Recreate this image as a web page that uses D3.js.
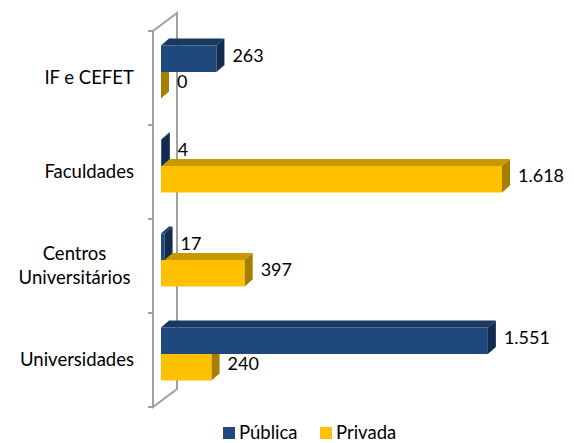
<!DOCTYPE html>
<html>
<head>
<meta charset="utf-8">
<script src="https://cdn.jsdelivr.net/npm/d3@7"></script>
<style>
  body { margin: 0; background: #fff; }
  text { font-family: Lato, "Noto Sans", sans-serif; fill: #000; }
</style>
</head>
<body>
<div id="chart"></div>
<script>
// data
var categories = ["IF e CEFET", "Faculdades", "Centros Universitários", "Universidades"];
var categoryLines = [["IF e CEFET"], ["Faculdades"], ["Centros", "Universitários"], ["Universidades"]];
var series = ["Pública", "Privada"];
var publica = [263, 4, 17, 1551];
var privada = [0, 1618, 397, 240];
var valueLabels = [["263", "4", "17", "1.551"], ["0", "1.618", "397", "240"]];

var width = 574, height = 443;

// colours per series: front, top, side
var colors = {
  "Pública": {front: "#1f497d", top: "#19395f", side: "#132c4d"},
  "Privada": {front: "#ffc000", top: "#c99a00", side: "#a67f00"}
};

var svg = d3.select("#chart").append("svg")
    .attr("width", width)
    .attr("height", height);

// 3D wall geometry (front plane, back plane offset)
var wallX = 153, wallDx = 24, wallDy = -18;
var barDx = 8, barDy = -7;   // bar depth
var planeDx = 8, planeDy = -6; // bars sit a third into the floor

var y = d3.scaleBand()
    .domain(categories)
    .range([31, 407])
    .padding(0);

var ySub = d3.scaleBand()
    .domain(series)
    .range([0, y.bandwidth()])
    .paddingInner(0)
    .paddingOuter(0.774);

var x = d3.scaleLinear()
    .domain([0, 1800])
    .range([wallX + planeDx, wallX + planeDx + 341 / 1618 * 1800]);

// wall
var wall = svg.append("g")
    .attr("fill", "none")
    .attr("stroke", "#a0a0a0")
    .attr("stroke-width", 2);
var y0 = y.range()[0], y1 = y.range()[1];
wall.append("path")
    .attr("d", "M" + wallX + "," + y0 + "L" + wallX + "," + y1 +
               "L" + (wallX + wallDx) + "," + (y1 + wallDy) +
               "L" + (wallX + wallDx) + "," + (y0 + wallDy) +
               "Z");
var tickYs = categories.map(function(c) { return y(c); }).concat([y1]);
wall.selectAll("line.tick")
    .data(tickYs)
    .enter().append("line")
    .attr("x1", wallX - 5).attr("x2", wallX)
    .attr("y1", function(d) { return d; })
    .attr("y2", function(d) { return d; });

// bars: draw Privada first so Pública covers its hidden top
var rows = [];
[1, 0].forEach(function(si) {
  var vals = si === 0 ? publica : privada;
  categories.forEach(function(c, ci) {
    rows.push({s: series[si], si: si, c: c, v: vals[ci], label: valueLabels[si][ci]});
  });
});

var bars = svg.append("g").selectAll("g")
    .data(rows)
    .enter().append("g");

function poly(pts) {
  return "M" + pts.map(function(p) { return p[0] + "," + p[1]; }).join("L") + "Z";
}

bars.each(function(d) {
  var g = d3.select(this);
  var x0 = x(0), xe = x(d.v);
  var top = y(d.c) + planeDy + ySub(d.s);
  var bot = top + ySub.bandwidth();
  var col = colors[d.s];
  g.append("path")
      .attr("d", poly([[x0, top], [xe, top], [xe, bot], [x0, bot]]))
      .attr("fill", col.front);
  g.append("path")
      .attr("d", poly([[x0, top], [xe, top], [xe + barDx, top + barDy], [x0 + barDx, top + barDy]]))
      .attr("fill", col.top);
  g.append("path")
      .attr("d", poly([[xe, top], [xe + barDx, top + barDy], [xe + barDx, bot + barDy], [xe, bot]]))
      .attr("fill", col.side);
  g.append("text")
      .attr("x", xe + barDx + 8)
      .attr("y", (top + bot) / 2 + barDy / 2)
      .attr("dy", "0.35em")
      .attr("font-size", 18)
      .text(d.label);
});

// category labels (multi-line ones are centred as a block)
var labelRight = 134;
var catG = svg.append("g");
categories.forEach(function(c, ci) {
  var lines = categoryLines[ci];
  var t = catG.append("text")
      .attr("font-size", 18.5)
      .attr("text-anchor", "middle");
  var cy = y(c) + y.bandwidth() / 2;
  var lh = 24;
  lines.forEach(function(l, li) {
    t.append("tspan")
      .attr("y", cy + (li - (lines.length - 1) / 2) * lh)
      .attr("dy", "0.35em")
      .text(l);
  });
  var w = t.node().getBBox().width;
  var cx = lines.length > 1 ? 74.5 : labelRight - w / 2;
  t.selectAll("tspan").attr("x", cx);
});

// legend
var legend = svg.append("g")
    .selectAll("g")
    .data(series)
    .enter().append("g")
    .attr("transform", function(d, i) { return "translate(" + (223 + i * 97) + ",427)"; });
legend.append("rect")
    .attr("width", 12)
    .attr("height", 12)
    .attr("fill", function(d) { return colors[d].front; });
legend.append("text")
    .attr("x", 16)
    .attr("y", 6)
    .attr("dy", "0.35em")
    .attr("font-size", 18.5)
    .text(function(d) { return d; });
</script>
</body>
</html>
